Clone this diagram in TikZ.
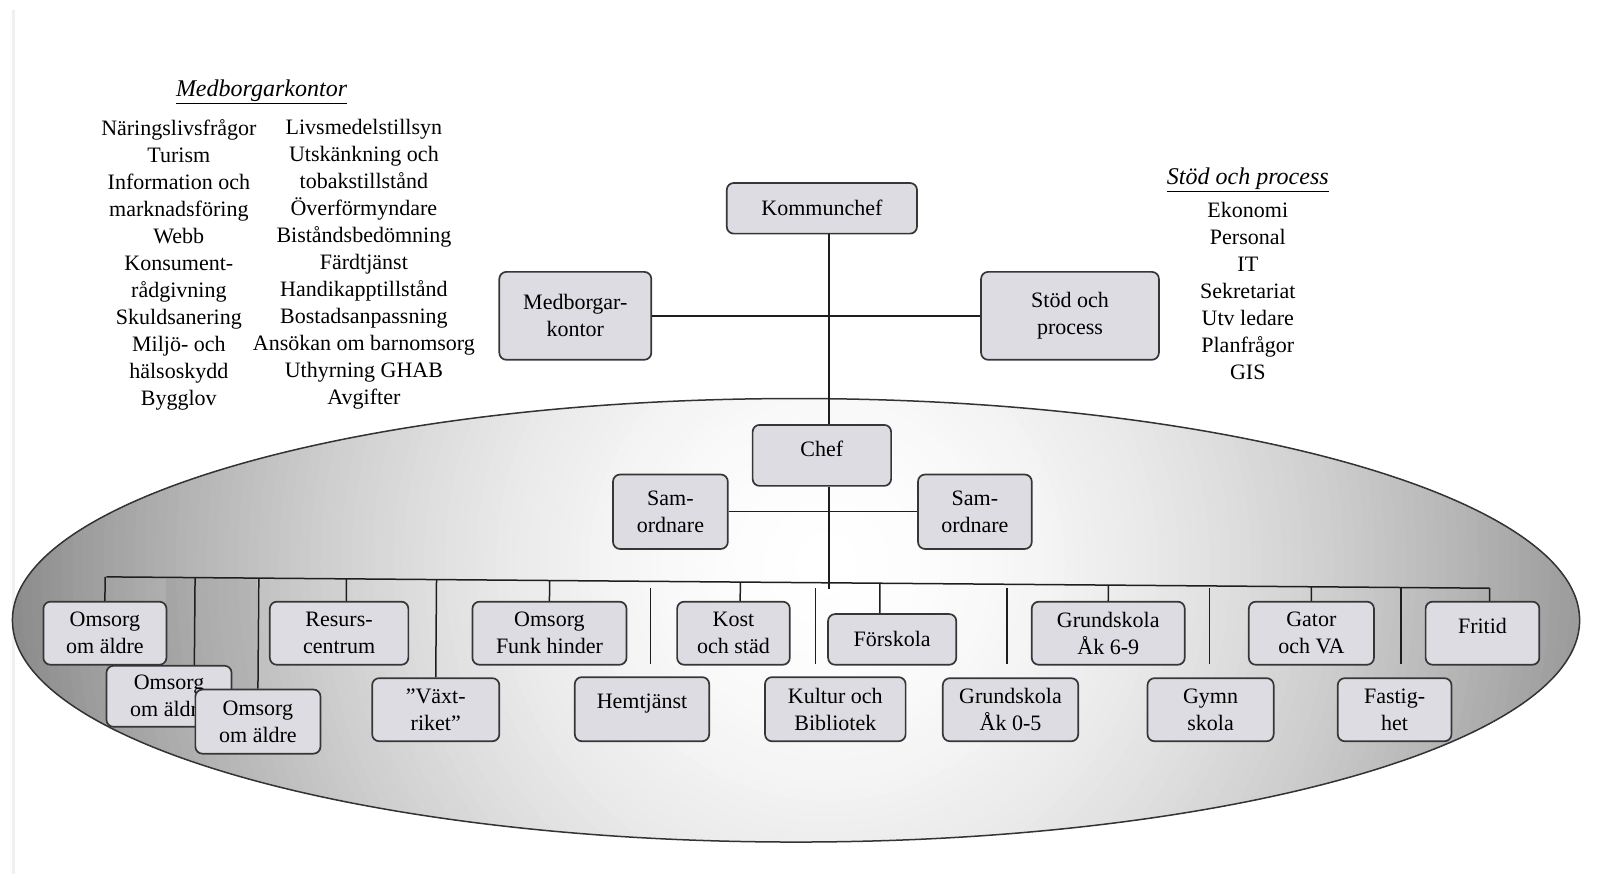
\documentclass[tikz,border=0pt]{standalone}
\usepackage{fontspec}
\setmainfont{Liberation Serif}
\usetikzlibrary{calc}
\definecolor{boxfill}{HTML}{DDDCE2}
\definecolor{boxline}{HTML}{363636}
\definecolor{linkcol}{HTML}{1E1E1E}
\tikzset{
  txt/.style={font=\fontsize{22}{27}\selectfont, align=center, inner sep=0pt},
  ttl/.style={font=\fontsize{24}{27}\selectfont\itshape, align=center, inner sep=0pt},
  box/.style 2 args={txt, draw=boxline, line width=1.7pt, fill=boxfill, rounded corners=7pt,
     minimum width=#1*1.0338pt, minimum height=#2*1.0338pt},
  link/.style={draw=linkcol, line width=1.5pt},
}
\begin{document}
\begin{tikzpicture}[x=1.0338pt, y=-1.0338pt]
\useasboundingbox (0,0) rectangle (1568,849);
\fill[white] (0,0) rectangle (1568,849);
\draw[gray!12, line width=3pt] (13,10) -- (13,845);

% ---- top texts
\node[ttl] (medtitle) at (253,89) {\underline{Medborgarkontor}};
\node[txt] (medlist1) at (173,256) {Näringslivsfrågor\\Turism\\Information och\\marknadsföring\\Webb\\Konsument-\\rådgivning\\Skuldsanering\\Miljö- och\\hälsoskydd\\Bygglov};
\node[txt] (medlist2) at (352,256) {Livsmedelstillsyn\\Utskänkning och\\tobakstillstånd\\Överförmyndare\\Biståndsbedömning\\Färdtjänst\\Handikapptillstånd\\Bostadsanpassning\\Ansökan om barnomsorg\\Uthyrning GHAB\\Avgifter};
\node[ttl] (stodtitle) at (1207,174) {\underline{Stöd och process}};
\node[txt] (stodlist) at (1207,281) {Ekonomi\\Personal\\IT\\Sekretariat\\Utv ledare\\Planfrågor\\GIS};

% ---- ellipse with radial grey gradient
\begin{scope}
  \clip (770,600) ellipse [x radius=758, y radius=214.5];
  \foreach \i in {0,...,82} {
    \pgfmathsetmacro{\rr}{830-10*\i}
    \pgfmathsetmacro{\gg}{max(0.5, 1-0.45*(\rr/790)^1.8)}
    \definecolor{ringc}{gray}{\gg}
    \fill[ringc] (800,545) circle [radius=\rr];
  }
  \fill[black, opacity=0.06] (161,558) rectangle (249,700);
\end{scope}
\draw[draw=black!80, line width=1.5pt] (770,600) ellipse [x radius=758, y radius=214.5];

% ---- top boxes
\node[box={184}{49}] (kommunchef) at (795,201.5) {Kommunchef};
\node[box={147}{85}] (medborg) at (556.5,305.5) {Medborgar-\\kontor};
\node[box={172}{85}] (stod) at (1035,305.5) {Stöd och\\process};
\node[box={134}{59}] (chef) at (795,440.5) {\raisebox{7pt}[\height][\depth]{Chef}};
\node[box={111}{72}] (saml) at (648.5,495) {Sam-\\ordnare};
\node[box={110}{72}] (samr) at (943,495) {Sam-\\ordnare};

\coordinate (vx) at (802,0);
\draw[link] (kommunchef.south -| vx) -- (chef.north -| vx);
\draw[link] (medborg.east) -- (stod.west);
\draw[link] (saml.east) -- (samr.west);

% ---- bus
\coordinate (busL) at (103,558);
\coordinate (busR) at (1441,569);
\draw[link] (busL) -- (busR);
\draw[link] (chef.south -| vx) -- (802,570);

% ---- row boxes
\node[box={119}{61}] (oa1) at (101.5,612.5) {Omsorg\\om äldre};
\node[box={121}{59}] (oa2) at (163.5,673.5) {Omsorg\\om äldre};
\node[box={121}{62}] (oa3) at (249.5,698) {Omsorg\\om äldre};
\node[box={134}{61}] (resurs) at (328,612.5) {Resurs-\\centrum};
\node[box={123}{61}] (vaxt) at (421.5,686.5) {”Växt-\\riket”};
\node[box={149}{61}] (funk) at (531.5,612.5) {Omsorg\\Funk hinder};
\node[box={130}{62}] (hem) at (621,686) {\raisebox{6pt}[\height][\depth]{Hemtjänst}};
\node[box={109}{61}] (kost) at (709.5,612.5) {Kost\\och städ};
\node[box={136}{62}] (kultur) at (808,686) {Kultur och\\Bibliotek};
\node[box={124}{49}] (forskola) at (863,618.5) {Förskola};
\node[box={131}{61}] (g05) at (977.5,686.5) {Grundskola\\Åk 0-5};
\node[box={148}{61}] (g69) at (1072,612.5) {Grundskola\\Åk 6-9};
\node[box={122}{61}] (gymn) at (1171,686.5) {Gymn\\skola};
\node[box={121}{61}] (gator) at (1268.5,612.5) {Gator\\och VA};
\node[box={110}{61}] (fast) at (1349,686.5) {Fastig-\\het};
\node[box={110}{61}] (fritid) at (1434,612.5) {\raisebox{7pt}[\height][\depth]{Fritid}};

% ---- drops to boxes
\draw[link] ($(busL)!(oa1.north)!(busR)$) -- (oa1.north);
\draw[link] ($(busL)!($(oa2.north)+(24.5,0)$)!(busR)$) -- ($(oa2.north)+(24.5,0)$);
\draw[link] ($(busL)!(oa3.north)!(busR)$) -- (oa3.north);
\draw[link] ($(busL)!($(resurs.north)+(7,0)$)!(busR)$) -- ($(resurs.north)+(7,0)$);
\draw[link] ($(busL)!(vaxt.north)!(busR)$) -- (vaxt.north);
\draw[link] ($(busL)!(funk.north)!(busR)$) -- (funk.north);
\draw[link] ($(busL)!($(kost.north)+(6.5,0)$)!(busR)$) -- ($(kost.north)+(6.5,0)$);
\draw[link] ($(busL)!($(forskola.north)+(-12,0)$)!(busR)$) -- ($(forskola.north)+(-12,0)$);
\draw[link] ($(busL)!(g69.north)!(busR)$) -- (g69.north);
\draw[link] ($(busL)!(gator.north)!(busR)$) -- (gator.north);
\draw[link] ($(busL)!($(fritid.north)+(7,0)$)!(busR)$) -- ($(fritid.north)+(7,0)$);

% ---- floating drops above second-row boxes
\draw[link] ($(hem.north)+(8,-85)$) -- ++(0,73);
\draw[link] ($(kultur.north)+(-19,-85)$) -- ++(0,73);
\draw[link] ($(g05.north)+(-3.5,-86)$) -- ++(0,73);
\draw[link] ($(gymn.north)+(-1,-86)$) -- ++(0,73);
\draw[link] ($(fast.north)+(6,-86)$) -- ++(0,73);
\end{tikzpicture}
\end{document}
